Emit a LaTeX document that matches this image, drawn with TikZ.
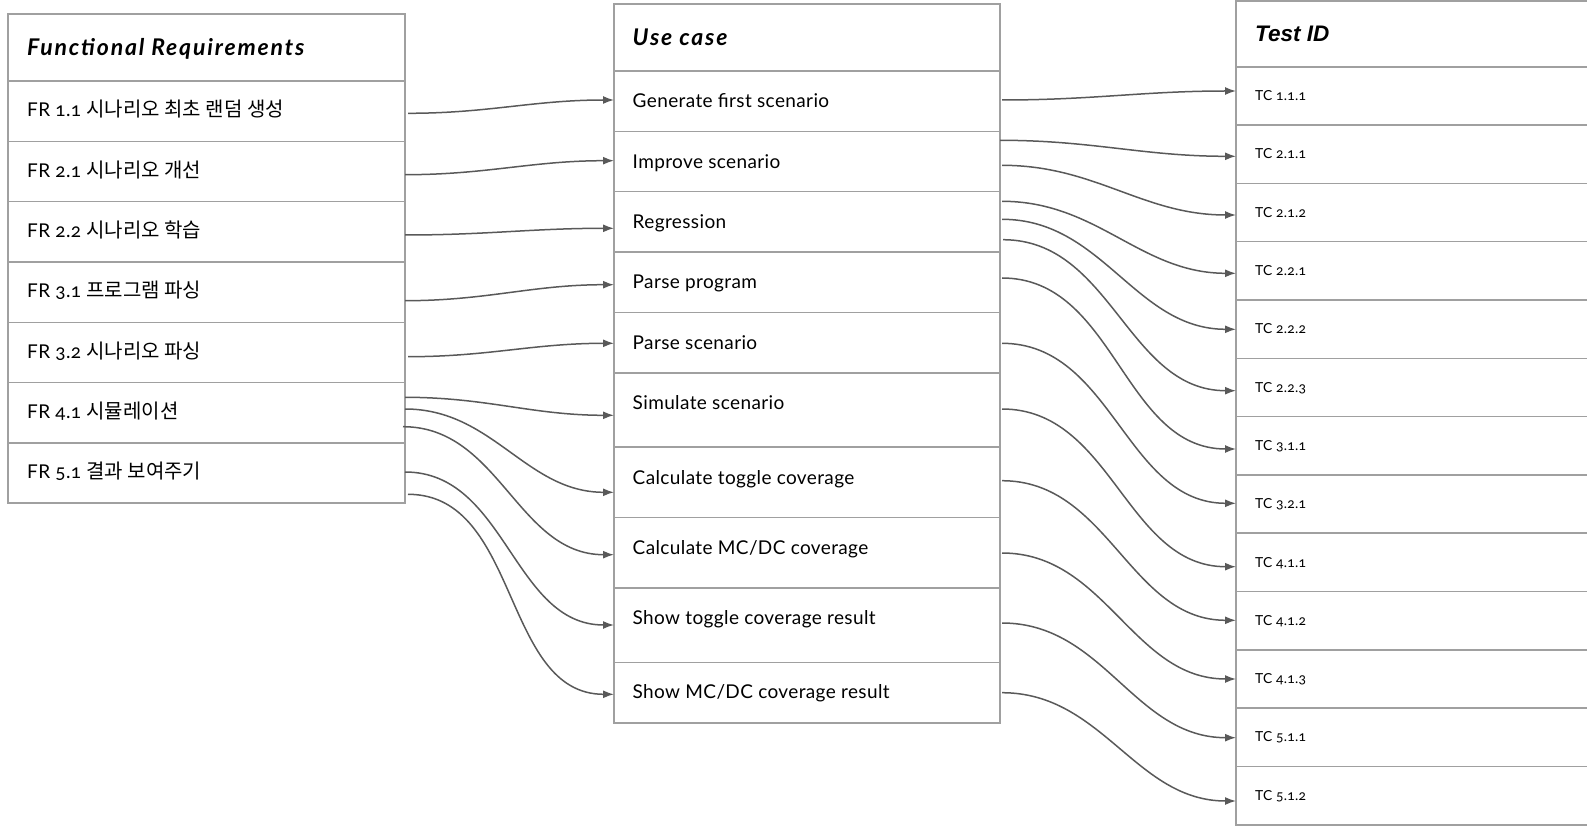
\documentclass[tikz,border=0pt]{standalone}
\usepackage{fontspec}
\setmainfont{Lato}[Numbers=OldStyle,LetterSpace=2]
\newfontfamily\headfont{Lato}[Numbers=OldStyle,LetterSpace=8]
\newfontfamily\krfont{Noto Sans CJK KR}
\newfontfamily\arialfont{Liberation Sans}
\newcommand{\krtext}[1]{{\krfont\fontsize{20}{22}\selectfont #1}}
\usepackage{xcolor}
\usetikzlibrary{calc,arrows.meta}
\definecolor{boxgray}{HTML}{A0A0A0}
\definecolor{linegray}{HTML}{595959}

\begin{document}
\begin{tikzpicture}[x=1pt,y=-1pt,
	cell/.style={draw=boxgray,line width=1.6pt,anchor=north west,outer sep=0pt,inner sep=0pt},
	txt/.style={anchor=mid west,inner sep=0pt,font=\fontsize{19}{22}\selectfont},
	head/.style={anchor=mid west,inner sep=0pt,font=\headfont\fontsize{23}{27}\selectfont\bfseries\itshape},
	tctxt/.style={anchor=mid west,inner sep=0pt,font=\fontsize{13.8}{16}\selectfont},
	link/.style={draw=linegray,line width=1.5pt,-{Latex[length=11pt,width=8pt]}}]
		\clip (0,0) rectangle (1587,826);
		% functional requirements
		\node[cell,minimum width=397pt,minimum height=67pt] (frhead) at (8,14) {};
		\node[head] (frheadt) at ($(frhead.north west)+(19,38.5)$) {Functional Requirements};
		\node[cell,minimum width=397pt,minimum height=60.5pt] (fr11) at (8,81) {};
		\node[txt] (fr11t) at ($(fr11.north west)+(19,33.3)$) {FR 1.1 \krtext{시나리오 최초 랜덤 생성}};
		\node[cell,minimum width=397pt,minimum height=60.2pt] (fr21) at (8,141.5) {};
		\node[txt] (fr21t) at ($(fr21.north west)+(19,33.3)$) {FR 2.1 \krtext{시나리오 개선}};
		\node[cell,minimum width=397pt,minimum height=60.3pt] (fr22) at (8,201.7) {};
		\node[txt] (fr22t) at ($(fr22.north west)+(19,33.3)$) {FR 2.2 \krtext{시나리오 학습}};
		\node[cell,minimum width=397pt,minimum height=60.3pt] (fr31) at (8,262) {};
		\node[txt] (fr31t) at ($(fr31.north west)+(19,33.3)$) {FR 3.1 \krtext{프로그램 파싱}};
		\node[cell,minimum width=397pt,minimum height=60.2pt] (fr32) at (8,322.3) {};
		\node[txt] (fr32t) at ($(fr32.north west)+(19,33.3)$) {FR 3.2 \krtext{시나리오 파싱}};
		\node[cell,minimum width=397pt,minimum height=60.3pt] (fr41) at (8,382.5) {};
		\node[txt] (fr41t) at ($(fr41.north west)+(19,33.3)$) {FR 4.1 \krtext{시뮬레이션}};
		\node[cell,minimum width=397pt,minimum height=60.2pt] (fr51) at (8,442.8) {};
		\node[txt] (fr51t) at ($(fr51.north west)+(19,33.3)$) {FR 5.1 \krtext{결과 보여주기}};
		% use cases
		\node[cell,minimum width=386pt,minimum height=67pt] (uchead) at (614,4) {};
		\node[head] (ucheadt) at ($(uchead.north west)+(18.5,39.4)$) {Use case};
		\node[cell,minimum width=386pt,minimum height=60.7pt] (uc1) at (614,71) {};
		\node[txt] (uc1t) at ($(uc1.north west)+(18.5,34)$) {Generate first scenario};
		\node[cell,minimum width=386pt,minimum height=60pt] (uc2) at (614,131.7) {};
		\node[txt] (uc2t) at ($(uc2.north west)+(18.5,34)$) {Improve scenario};
		\node[cell,minimum width=386pt,minimum height=60.3pt] (uc3) at (614,191.7) {};
		\node[txt] (uc3t) at ($(uc3.north west)+(18.5,34)$) {Regression};
		\node[cell,minimum width=386pt,minimum height=60.5pt] (uc4) at (614,252) {};
		\node[txt] (uc4t) at ($(uc4.north west)+(18.5,34)$) {Parse program};
		\node[cell,minimum width=386pt,minimum height=60.5pt] (uc5) at (614,312.5) {};
		\node[txt] (uc5t) at ($(uc5.north west)+(18.5,34)$) {Parse scenario};
		\node[cell,minimum width=386pt,minimum height=73.7pt] (uc6) at (614,373) {};
		\node[txt] (uc6t) at ($(uc6.north west)+(18.5,34)$) {Simulate scenario};
		\node[cell,minimum width=386pt,minimum height=70.6pt] (uc7) at (614,446.7) {};
		\node[txt] (uc7t) at ($(uc7.north west)+(18.5,35)$) {Calculate toggle coverage};
		\node[cell,minimum width=386pt,minimum height=70.4pt] (uc8) at (614,517.3) {};
		\node[txt] (uc8t) at ($(uc8.north west)+(18.5,35)$) {Calculate MC/DC coverage};
		\node[cell,minimum width=386pt,minimum height=74.6pt] (uc9) at (614,587.7) {};
		\node[txt] (uc9t) at ($(uc9.north west)+(18.5,34.6)$) {Show toggle coverage result};
		\node[cell,minimum width=386pt,minimum height=60.4pt] (uc10) at (614,662.3) {};
		\node[txt] (uc10t) at ($(uc10.north west)+(18.5,34)$) {Show MC/DC coverage result};
		% test ids
		\node[cell,minimum width=420pt,minimum height=66pt] (tchead) at (1236,0.8) {};
		\node[head,font=\arialfont\fontsize{22.5}{26}\selectfont\bfseries\itshape] (tcheadt) at ($(tchead.north west)+(19,38.6)$) {Test ID};
		\node[cell,minimum width=420pt,minimum height=58.3pt] (tc111) at (1236,66.8) {};
		\node[tctxt] (tc111t) at ($(tc111.north west)+(19,31.3)$) {TC 1.1.1};
		\node[cell,minimum width=420pt,minimum height=58.3pt] (tc211) at (1236,125.1) {};
		\node[tctxt] (tc211t) at ($(tc211.north west)+(19,31.3)$) {TC 2.1.1};
		\node[cell,minimum width=420pt,minimum height=58.3pt] (tc212) at (1236,183.4) {};
		\node[tctxt] (tc212t) at ($(tc212.north west)+(19,31.3)$) {TC 2.1.2};
		\node[cell,minimum width=420pt,minimum height=58.3pt] (tc221) at (1236,241.7) {};
		\node[tctxt] (tc221t) at ($(tc221.north west)+(19,31.3)$) {TC 2.2.1};
		\node[cell,minimum width=420pt,minimum height=58.3pt] (tc222) at (1236,300) {};
		\node[tctxt] (tc222t) at ($(tc222.north west)+(19,31.3)$) {TC 2.2.2};
		\node[cell,minimum width=420pt,minimum height=58.3pt] (tc223) at (1236,358.3) {};
		\node[tctxt] (tc223t) at ($(tc223.north west)+(19,31.3)$) {TC 2.2.3};
		\node[cell,minimum width=420pt,minimum height=58.3pt] (tc311) at (1236,416.6) {};
		\node[tctxt] (tc311t) at ($(tc311.north west)+(19,31.3)$) {TC 3.1.1};
		\node[cell,minimum width=420pt,minimum height=58.3pt] (tc321) at (1236,474.9) {};
		\node[tctxt] (tc321t) at ($(tc321.north west)+(19,31.3)$) {TC 3.2.1};
		\node[cell,minimum width=420pt,minimum height=58.3pt] (tc411) at (1236,533.2) {};
		\node[tctxt] (tc411t) at ($(tc411.north west)+(19,31.3)$) {TC 4.1.1};
		\node[cell,minimum width=420pt,minimum height=58.3pt] (tc412) at (1236,591.5) {};
		\node[tctxt] (tc412t) at ($(tc412.north west)+(19,31.3)$) {TC 4.1.2};
		\node[cell,minimum width=420pt,minimum height=58.3pt] (tc413) at (1236,649.8) {};
		\node[tctxt] (tc413t) at ($(tc413.north west)+(19,31.3)$) {TC 4.1.3};
		\node[cell,minimum width=420pt,minimum height=58.3pt] (tc511) at (1236,708.1) {};
		\node[tctxt] (tc511t) at ($(tc511.north west)+(19,31.3)$) {TC 5.1.1};
		\node[cell,minimum width=420pt,minimum height=58.3pt] (tc512) at (1236,766.4) {};
		\node[tctxt] (tc512t) at ($(tc512.north west)+(19,31.3)$) {TC 5.1.2};
		% requirements to use cases
		\draw[link] ($(fr11.north east)+(3,32.3)$) to[out=0,in=180] ($(uc1.north west)+(0,29)$);
		\draw[link] ($(fr21.north east)+(0,33.2)$) to[out=0,in=180] ($(uc2.north west)+(0,29)$);
		\draw[link] ($(fr22.north east)+(0,33.3)$) to[out=0,in=180] ($(uc3.north west)+(0,36.6)$);
		\draw[link] ($(fr31.north east)+(0,38.7)$) to[out=0,in=180] ($(uc4.north west)+(0,32.7)$);
		\draw[link] ($(fr32.north east)+(3,34.4)$) to[out=0,in=180] ($(uc5.north west)+(0,30.8)$);
		\draw[link] ($(fr41.north east)+(0,14.8)$) to[out=0,in=180] ($(uc6.north west)+(0,42.3)$);
		\draw[link] ($(fr41.north east)+(0,26.5)$) to[out=0,in=180] ($(uc7.north west)+(0,45.6)$);
		\draw[link] ($(fr41.north east)+(-2,44.2)$) to[out=0,in=180] ($(uc8.north west)+(0,37.4)$);
		\draw[link] ($(fr51.north east)+(0,29.2)$) to[out=0,in=180] ($(uc9.north west)+(0,37.3)$);
		\draw[link] ($(fr51.north east)+(3,51.5)$) to[out=0,in=180] ($(uc10.north west)+(0,32)$);
		% use cases to tests
		\draw[link] ($(uc1.north east)+(2,29)$) to[out=0,in=180] ($(tc111.north west)+(0,24.2)$);
		\draw[link] ($(uc2.north east)+(0,8.6)$) to[out=0,in=180] ($(tc211.north west)+(0,31.2)$);
		\draw[link] ($(uc2.north east)+(2,33.6)$) to[out=0,in=180] ($(tc212.north west)+(0,31.6)$);
		\draw[link] ($(uc3.north east)+(2,9.6)$) to[out=0,in=180] ($(tc221.north west)+(0,31.6)$);
		\draw[link] ($(uc3.north east)+(2,27.6)$) to[out=0,in=180] ($(tc222.north west)+(0,29.3)$);
		\draw[link] ($(uc3.north east)+(3,48)$) to[out=0,in=180] ($(tc223.north west)+(0,32.4)$);
		\draw[link] ($(uc4.north east)+(2,26)$) to[out=0,in=180] ($(tc311.north west)+(0,32.4)$);
		\draw[link] ($(uc5.north east)+(2,30.8)$) to[out=0,in=180] ($(tc321.north west)+(0,28.4)$);
		\draw[link] ($(uc6.north east)+(2,36)$) to[out=0,in=180] ($(tc411.north west)+(0,33.5)$);
		\draw[link] ($(uc7.north east)+(2,34)$) to[out=0,in=180] ($(tc412.north west)+(0,28.8)$);
		\draw[link] ($(uc8.north east)+(2,35.7)$) to[out=0,in=180] ($(tc413.north west)+(0,29.2)$);
		\draw[link] ($(uc9.north east)+(2,35.3)$) to[out=0,in=180] ($(tc511.north west)+(0,29.6)$);
		\draw[link] ($(uc10.north east)+(2,30.4)$) to[out=0,in=180] ($(tc512.north west)+(0,34.6)$);
	\end{tikzpicture}
\end{document}
